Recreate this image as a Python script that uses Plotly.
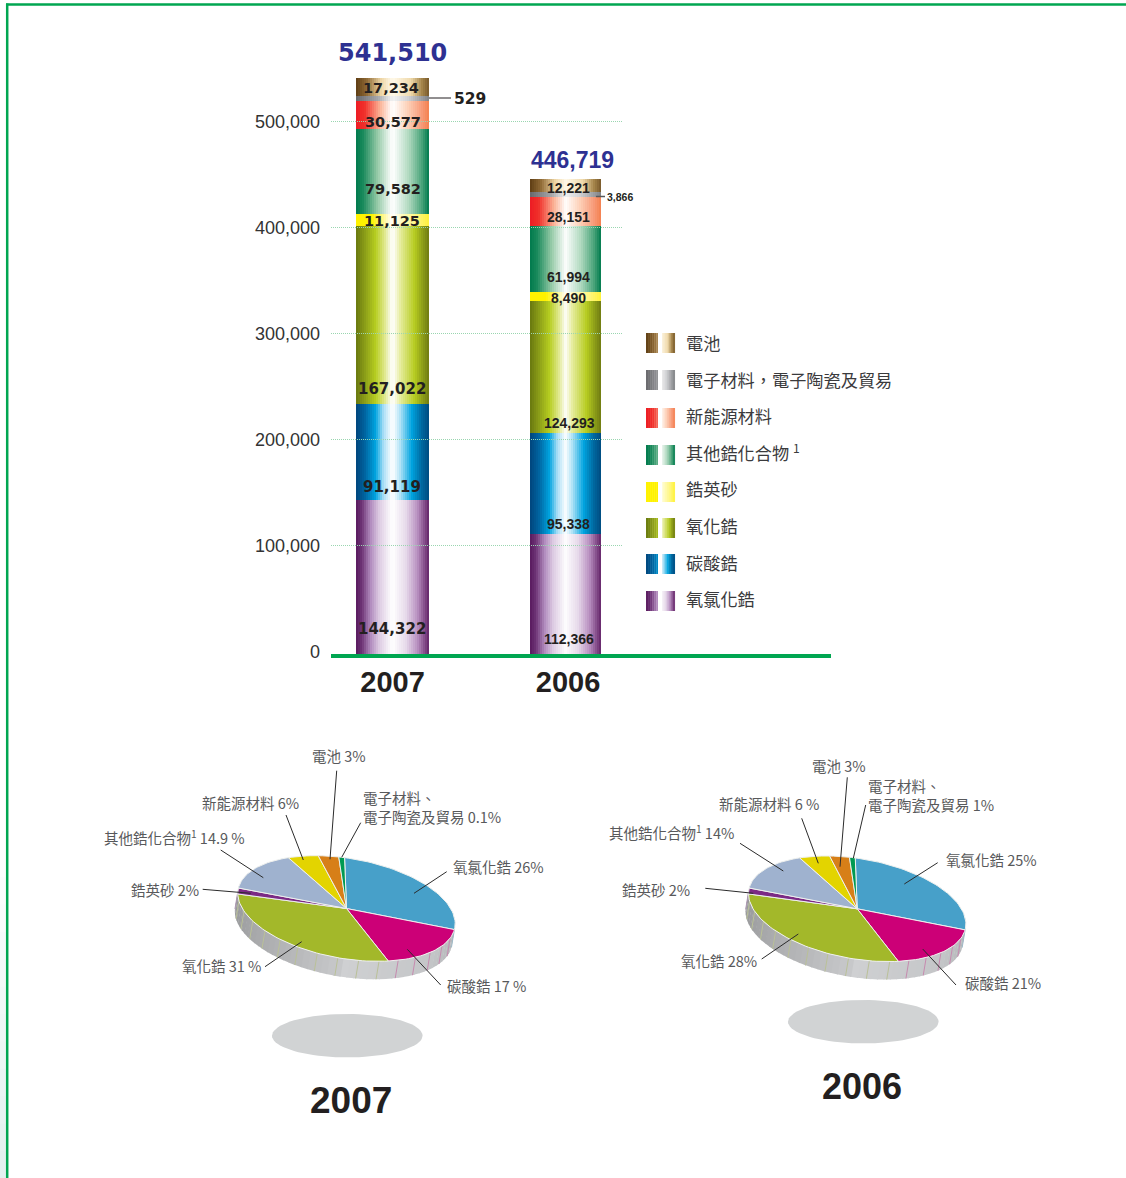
import math
import plotly.graph_objects as go

# ---------- data ----------
years = ["2007", "2006"]
categories = ["氧氯化鋯", "碳酸鋯", "氧化鋯", "鋯英砂", "其他鋯化合物", "新能源材料", "電子材料,電子陶瓷及貿易", "電池"]
values_2007 = [144322, 91119, 167022, 11125, 79582, 30577, 529, 17234]
values_2006 = [112366, 95338, 124293, 8490, 61994, 28151, 3866, 12221]
totals = [541510, 446719]
y_ticks = [0, 100000, 200000, 300000, 400000, 500000]
# slice shares as drawn in the picture, clockwise from 氧氯化鋯
pie_shares_2007 = [27.2, 16.8, 31.1, 1.9, 14.3, 4.8, 3.05, 0.85]
pie_shares_2006 = [27.2, 16.9, 31.1, 1.9, 14.3, 4.8, 2.95, 0.85]

legend_labels = ["電池", "電子材料，電子陶瓷及貿易", "新能源材料", "其他鋯化合物 <sup>1</sup>", "鋯英砂", "氧化鋯", "碳酸鋯", "氧氯化鋯"]

# ---------- styles ----------
W, H = 1126, 1178
FRAME = "#00a651"
INK = "#231f20"
CJK = "Noto Sans CJK TC"
SANS = "Liberation Sans"
DEJA = "DejaVu Sans"
PIE_COLORS = ["#47a0c9", "#cc0077", "#a3b82a", "#7b2a85", "#9fb2cf", "#e3d400", "#d77f18", "#009a52"]
GRADS = [
    [(0, "#591a5e"), (.08, "#6d3375"), (.2, "#b08abd"), (.32, "#dccae2"), (.5, "#ffffff"), (.68, "#e6d9ea"), (.84, "#b88fc0"), (1, "#642468")],
    [(0, "#00457c"), (.12, "#00639f"), (.27, "#00a4e0"), (.38, "#a8def6"), (.5, "#ffffff"), (.6, "#b0e2f6"), (.76, "#00a4e0"), (.9, "#00689f"), (1, "#004b80")],
    [(0, "#68780f"), (.12, "#8a9c18"), (.27, "#b6cd20"), (.4, "#e0e88e"), (.5, "#ffffff"), (.6, "#e6ec9e"), (.8, "#b6cc20"), (.92, "#8a9a18"), (1, "#6f7a12")],
    [(0, "#fff200"), (.22, "#fff200"), (.4, "#fff9a0"), (.5, "#ffffff"), (.62, "#fffbc0"), (.85, "#fff67a"), (1, "#fff23a")],
    [(0, "#007a4d"), (.1, "#1a8a5c"), (.3, "#96cba8"), (.5, "#ffffff"), (.72, "#b0d9bf"), (.9, "#4aa47a"), (1, "#007a4d")],
    [(0, "#ed1c24"), (.12, "#f0302a"), (.33, "#fbb194"), (.5, "#ffffff"), (.7, "#fdd2ba"), (.9, "#f79a78"), (1, "#f4804f")],
    [(0, "#68686c"), (.3, "#a6a7aa"), (.5, "#f2f2f2"), (.7, "#d2d3d5"), (1, "#808285")],
    [(0, "#5e3d14"), (.15, "#8f6a35"), (.35, "#eed6a6"), (.5, "#fff9ea"), (.75, "#efd9aa"), (.9, "#a5854b"), (1, "#78592a")],
]
N_SLICES = 36
BAR_X = [(356, 429), (530, 601)]
MIN_BAND = 4700  # thinnest stripe drawn, so a tiny segment stays visible


def hex2rgb(h):
    return tuple(int(h[i:i + 2], 16) for i in (1, 3, 5))


def grad_color(stops, t):
    for (a, ca), (b, cb) in zip(stops, stops[1:]):
        if t <= b:
            f = (t - a) / (b - a) if b > a else 0
            c = [round(p + (q - p) * f) for p, q in zip(hex2rgb(ca), hex2rgb(cb))]
            return "rgb(%d,%d,%d)" % tuple(c)
    return stops[-1][1]


# ---------- figure and axes ----------
TOP_PX, BASE_PX = 30, 654
BAR_SCALE = 1.0637e-3    # px per unit of the stack
TICK_SCALE = 1.06e-3     # px per unit of the printed scale
TICK_ZERO_PX = 651.5
dom = [1 - BASE_PX / H, 1 - TOP_PX / H]

fig = go.Figure()

bx, by, bbase, bw, boff, bcol = [], [], [], [], [], []
for (x0, x1), vals in zip(BAR_X, [values_2007, values_2006]):
    step = (x1 - x0) / N_SLICES
    cum = 0
    for i, v in enumerate(vals):
        top = cum + v
        h = max(v, MIN_BAND)
        for s in range(N_SLICES):
            bx.append(x0 + s * step)
            bbase.append(top - h)
            by.append(h)
            bw.append(step + (0.6 if s < N_SLICES - 1 else 0))
            boff.append(0)
            bcol.append(grad_color(GRADS[i], (s + .5) / N_SLICES))
        cum = top

# dotted gridlines, drawn first so the bars sit on top of them
gx, gy = [], []
for t in y_ticks[1:]:
    gx += [331, 623, None]
    gy += [t, t, None]
fig.add_trace(go.Scatter(x=gx, y=gy, mode="lines", yaxis="y2", hoverinfo="skip", showlegend=False,
                         line=dict(color="#9ad6b0", width=1, dash="1px 1px")))
fig.add_trace(go.Bar(x=bx, y=by, base=bbase, width=bw, offset=boff, marker=dict(color=bcol, line=dict(width=0)),
                     hoverinfo="skip", showlegend=False))

# ---------- overlay in page pixels for pies, legend and text ----------
shapes, annos = [], []


def txt(x, y, s, size, font=SANS, color=INK, bold=False, anchor="center"):
    if bold:
        s = "<b>%s</b>" % s
    annos.append(dict(x=x, y=y, xref="x3", yref="y3", text=s, showarrow=False, xanchor=anchor, yanchor="middle",
                      font=dict(size=size, family=font, color=color), align="left", borderpad=0))


def seg(x0, y0, x1, y1, color=INK, width=1):
    shapes.append(dict(type="line", xref="x3", yref="y3", x0=x0, y0=y0, x1=x1, y1=y1,
                       line=dict(color=color, width=width), layer="above"))


A, B, TILT, DX, DY, START = 110, 50, math.radians(10), -3, 18, 264.4


def ell(cx, cy, t, dx=0, dy=0):
    c, s = A * math.cos(t), B * math.sin(t)
    return (cx + dx + c * math.cos(TILT) - s * math.sin(TILT),
            cy + dy + c * math.sin(TILT) + s * math.cos(TILT))


def mix(a, b, f):
    f = max(0, min(1, f))
    pa, pb = hex2rgb(a), hex2rgb(b)
    return "rgb(%d,%d,%d)" % tuple(round(p + (q - p) * f) for p, q in zip(pa, pb))


def draw_pie(cx, cy, shares, sx, sy):
    # ground shadow
    pts = [k * math.pi / 40 for k in range(81)]
    fig.add_trace(go.Scatter(x=[sx + 75.3 * math.cos(t) for t in pts], y=[sy + 21.7 * math.sin(t) for t in pts],
                             xaxis="x3", yaxis="y3", mode="lines", fill="toself", fillcolor="#d1d3d4",
                             line=dict(width=0), hoverinfo="skip", showlegend=False))
    # side wall: strips round the front rim, dark on the left to light at the front
    n = 56
    lo, hi = math.radians(-12), math.radians(186)
    for k in range(n):
        t0 = lo + (hi - lo) * k / n
        t1 = lo + (hi - lo) * (k + 1.15) / n
        deg = math.degrees(t0)
        if deg > 85:
            col = mix("#c9cacc", "#8f9092", ((deg - 85) / 100) ** 0.9)
        elif deg > 30:
            col = mix("#c3c5c7", "#cfd0d2", (deg - 30) / 55)
        else:
            col = mix("#a9abae", "#c3c5c7", (deg + 12) / 42)
        p = [ell(cx, cy, t0), ell(cx, cy, t1), ell(cx, cy, t1, DX, DY), ell(cx, cy, t0, DX, DY)]
        fig.add_trace(go.Scatter(x=[q[0] for q in p] + [p[0][0]], y=[q[1] for q in p] + [p[0][1]],
                                 xaxis="x3", yaxis="y3", mode="lines", fill="toself", fillcolor=col,
                                 line=dict(width=0), hoverinfo="skip", showlegend=False))
    # faint tinted seams on the wall
    start = START
    edges = []
    for v in shares:
        edges.append((start, start + v * 3.6))
        start += v * 3.6
    for deg in range(0, 180, 11):
        d = deg + 2
        tint = "#b8b9bb"
        for j, (e0, e1) in enumerate(edges):
            if e0 <= d + 360 <= e1 or e0 <= d <= e1:
                tint = mix(PIE_COLORS[j], "#c4c5c7", .7)
        t = math.radians(d)
        p0, p1 = ell(cx, cy, t), ell(cx, cy, t, DX, DY)
        fig.add_trace(go.Scatter(x=[p0[0], p1[0]], y=[p0[1], p1[1]], xaxis="x3", yaxis="y3", mode="lines",
                                 line=dict(color=tint, width=1), hoverinfo="skip", showlegend=False))
    # top face
    for (e0, e1), col in zip(edges, PIE_COLORS):
        steps = max(3, int((e1 - e0) / 2))
        ts = [math.radians(e0 + (e1 - e0) * k / steps) for k in range(steps + 1)]
        p = [ell(cx, cy, t) for t in ts]
        fig.add_trace(go.Scatter(x=[cx] + [q[0] for q in p] + [cx], y=[cy] + [q[1] for q in p] + [cy],
                                 xaxis="x3", yaxis="y3", mode="lines", fill="toself", fillcolor=col,
                                 line=dict(color="#eef0ee", width=1), hoverinfo="skip", showlegend=False))


draw_pie(346.5, 908.5, pie_shares_2007, 347.3, 1035.7)
draw_pie(857.2, 908.8, pie_shares_2006, 863.3, 1021.7)

# page edge tint and frame
for k in range(12):
    y0 = 850 + k * (H - 850) / 12
    shapes.append(dict(type="rect", xref="x3", yref="y3", x0=0, x1=6.2, y0=y0, y1=y0 + (H - 850) / 12 + .5,
                       line=dict(width=0), fillcolor=mix("#ffffff", "#e2f1ef", (k + 1) / 12), layer="below"))
shapes.append(dict(type="line", xref="x3", yref="y3", x0=6, y0=4.5, x1=W, y1=4.5, line=dict(color=FRAME, width=2.5), layer="above"))
shapes.append(dict(type="line", xref="x3", yref="y3", x0=7.2, y0=3.5, x1=7.2, y1=H, line=dict(color=FRAME, width=2.5), layer="above"))

# bar totals and leaders
txt(392.5, 53, f"{totals[0]:,}", 24, DEJA, "#2e3192", True)
txt(572, 159.5, f"{totals[1]:,}", 23, SANS, "#2e3192", True)
seg(429, 98, 451, 98, "#231f20", 1)
seg(596, 196.5, 605, 196.5, "#58595b", 1.5)

# stack labels
pos07 = [(392, 629), (392, 486.5), (391.5, 389), (392, 221), (392.5, 188.5), (392.5, 122), None, (391, 88)]
size07 = [15, 15, 15, 14.5, 14.5, 14.5, 0, 14.5]
pos06 = [(568.5, 639), (568, 524), (569, 423), (568.5, 298), (568.5, 277), (568, 217), None, (568.5, 188)]
for v, p, sz in zip(values_2007, pos07, size07):
    if p:
        txt(p[0], p[1], f"{v:,}", sz, DEJA, INK, True)
for v, p in zip(values_2006, pos06):
    if p:
        txt(p[0], p[1], f"{v:,}", 14, SANS, INK, True)
txt(453, 98.5, f"{values_2007[6]:,}", 15.5, DEJA, INK, True, "left")
txt(606, 197, f"{values_2006[6]:,}", 10.5, SANS, INK, True, "left")

# legend
swatch_y = [343, 380, 418, 455, 492, 528, 564, 601]
legtxt_y = [342, 379, 415, 452, 488, 525, 562, 598]
for lab, y, ty, g in zip(legend_labels, swatch_y, legtxt_y, GRADS[::-1]):
    n = 14
    for s in range(n):
        x0 = 646 + s * 2.05
        shapes.append(dict(type="rect", xref="x3", yref="y3", x0=x0, x1=x0 + 2.4, y0=y - 10, y1=y + 10,
                           line=dict(width=0), fillcolor=grad_color(g, (s + .5) / n * .52 if s < n / 2 else .5 + (s + .5 - n / 2) / n),
                           layer="above"))
    shapes.append(dict(type="rect", xref="x3", yref="y3", x0=658, x1=662, y0=y - 10, y1=y + 10, line=dict(width=0), fillcolor="#ffffff", layer="above"))
    txt(684.5, ty, lab, 17.2, CJK, "#3a3a3c", False, "left")

# pie labels
GR = "#58595b"
pie_text = [
    (339, 755.5, "電池 3%", "center"), (250, 802.5, "新能源材料 6%", "center"),
    (361.5, 806.5, "電子材料、<br>電子陶瓷及貿易 0.1%", "left"),
    (174.5, 836.5, "其他鋯化合物<sup>1</sup> 14.9 %", "center"), (164.5, 889.5, "鋯英砂 2%", "center"),
    (498, 866.5, "氧氯化鋯 26%", "center"), (486.5, 985.5, "碳酸鋯 17 %", "center"), (221.5, 965.5, "氧化鋯 31 %", "center"),
    (838.5, 765.5, "電池 3%", "center"), (768.5, 803.5, "新能源材料 6 %", "center"),
    (866.5, 794.5, "電子材料、<br>電子陶瓷及貿易 1%", "left"),
    (671, 831.5, "其他鋯化合物<sup>1</sup> 14%", "center"), (655.5, 889.5, "鋯英砂 2%", "center"),
    (991.5, 859.5, "氧氯化鋯 25%", "center"), (1002.5, 982.5, "碳酸鋯 21%", "center"), (718.5, 960.5, "氧化鋯 28%", "center"),
]
for x, y, s, a in pie_text:
    txt(x, y, s, 14.5, CJK, GR, False, a)

leaders = [
    (336.7, 770.7, 330, 859.3), (286, 815, 303.3, 860), (360.7, 822.7, 341.7, 857.3), (220.7, 850, 263.3, 877.7),
    (202.7, 889.3, 250.7, 893.3), (446.7, 871.7, 414, 893.3), (440.7, 985, 407.3, 949.3), (265, 966.7, 301.7, 941.7),
    (847.3, 777.3, 840, 866.7), (801.7, 818.3, 818.3, 863.3), (865.7, 805, 853.3, 858.3), (740, 843.3, 783.3, 871),
    (705.3, 888.3, 753.3, 893.3), (937.7, 862.7, 904.3, 884), (956, 985, 922.7, 949), (761.7, 959, 798.3, 934),
]
for l in leaders:
    seg(*l, color="#2b2b2b", width=1)

txt(350.5, 1100.5, years[0], 37, SANS, INK, True)
txt(862, 1086.5, years[1], 36, SANS, INK, True)

fig.update_layout(
    width=W, height=H, margin=dict(l=0, r=0, t=0, b=0, autoexpand=False), paper_bgcolor="white", plot_bgcolor="rgba(0,0,0,0)",
    barmode="overlay", bargap=0, showlegend=False, shapes=shapes, annotations=annos,
    font=dict(family=SANS, color=INK),
    xaxis=dict(domain=[331 / W, 831 / W], range=[331, 831], showgrid=False, zeroline=False, showline=True,
               linecolor=FRAME, linewidth=4, ticks="", tickmode="array", automargin=False,
               tickvals=[392.5, 568], ticktext=["<b>%s</b>" % y for y in years],
               tickfont=dict(size=29, family=SANS, color=INK), anchor="y", ticklabelstandoff=-1),
    yaxis=dict(domain=dom, range=[0, (BASE_PX - TOP_PX) / BAR_SCALE], visible=False, anchor="x", automargin=False),
    yaxis2=dict(domain=dom, overlaying="y", side="left", anchor="x", automargin=False,
                range=[(TICK_ZERO_PX - BASE_PX) / TICK_SCALE, (TICK_ZERO_PX - TOP_PX) / TICK_SCALE],
                tickmode="array", tickvals=y_ticks, ticktext=[f"{t:,}" for t in y_ticks],
                tickfont=dict(size=18, family=SANS, color="#333333"), showgrid=False, zeroline=False, showline=False,
                ticks="", ticklabelstandoff=10),
    xaxis3=dict(domain=[0, 1], range=[0, W], visible=False, anchor="y3", automargin=False),
    yaxis3=dict(domain=[0, 1], range=[H, 0], visible=False, anchor="x3", automargin=False),
)
fig.write_html("out.html", config=dict(displayModeBar=False, responsive=False),
               default_width=f"{W}px", default_height=f"{H}px",
               post_script="document.body.style.margin='0';document.body.style.overflow='hidden';")
